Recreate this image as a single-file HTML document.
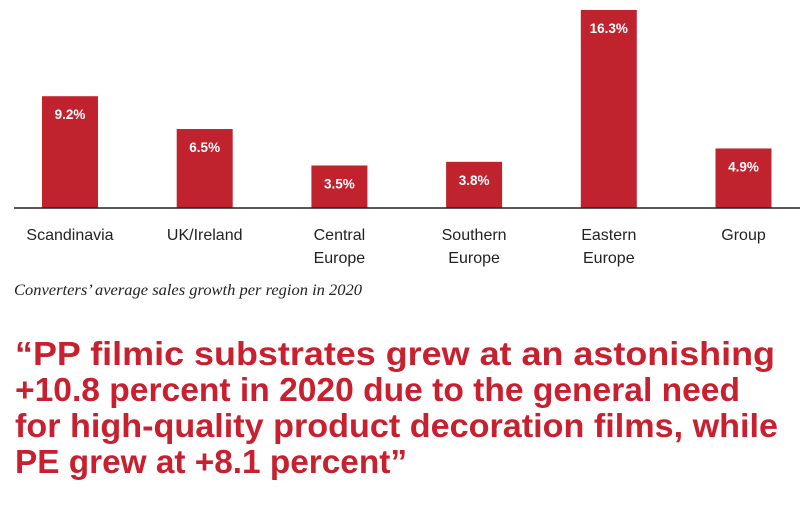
<!DOCTYPE html>
<html><head><meta charset="utf-8"><style>
body{margin:0;background:#fff;width:800px;height:527px;overflow:hidden}
svg{display:block}
</style></head><body>
<svg width="800" height="527">
<g id="bars"></g>
<line x1="14" y1="208" x2="800" y2="208" stroke="#222" stroke-width="1.5"/>
<g id="labels" font-family="Liberation Sans, sans-serif" font-size="16" fill="#222" text-anchor="middle"></g>
<text x="14" y="295" font-family="Liberation Serif, serif" font-style="italic" font-size="15.5" fill="#222" textLength="348" lengthAdjust="spacingAndGlyphs">Converters’ average sales growth per region in 2020</text>
<g font-family="Liberation Sans, sans-serif" font-weight="bold" font-size="33" fill="#c8202f">
<text x="15" y="365" textLength="760" lengthAdjust="spacingAndGlyphs">“PP filmic substrates grew at an astonishing</text>
<text x="15" y="401" textLength="725" lengthAdjust="spacingAndGlyphs">+10.8 percent in 2020 due to the general need</text>
<text x="15" y="437" textLength="763" lengthAdjust="spacingAndGlyphs">for high-quality product decoration films, while</text>
<text x="15" y="473" textLength="392" lengthAdjust="spacingAndGlyphs">PE grew at +8.1 percent”</text>
</g>
</svg>
<script>
const categories=[["Scandinavia"],["UK/Ireland"],["Central","Europe"],["Southern","Europe"],["Eastern","Europe"],["Group"]];
const values=[9.2,6.5,3.5,3.8,16.3,4.9];
const valueLabels=["9.2%","6.5%","3.5%","3.8%","16.3%","4.9%"];
const ns="http://www.w3.org/2000/svg";
const base=208, pxPer=12.15, x0=70, step=134.7, bw=56;
const xS=i=>x0+i*step, yS=v=>base-v*pxPer;
const gb=document.getElementById('bars'), gl=document.getElementById('labels');
values.forEach((v,i)=>{
  const r=document.createElementNS(ns,'rect');
  r.setAttribute('x',xS(i)-bw/2);r.setAttribute('y',yS(v));
  r.setAttribute('width',bw);r.setAttribute('height',base-yS(v));
  r.setAttribute('fill','#c0232e');
  
  
  gb.appendChild(r);
  const t=document.createElementNS(ns,'text');
  t.setAttribute('x',xS(i));t.setAttribute('y',yS(v)+23);
  t.setAttribute('fill','#fff');t.setAttribute('font-family','Liberation Sans, sans-serif');
  t.setAttribute('font-size','13.5');t.setAttribute('font-weight','bold');t.setAttribute('text-anchor','middle');
  t.textContent=valueLabels[i];
  
  
  gb.appendChild(t);
  categories[i].forEach((ln,j)=>{
    const c=document.createElementNS(ns,'text');
    c.setAttribute('x',xS(i));c.setAttribute('y',240+j*23);
    c.textContent=ln;
    
    
    gl.appendChild(c);
  });
});
</script>
</body></html>
